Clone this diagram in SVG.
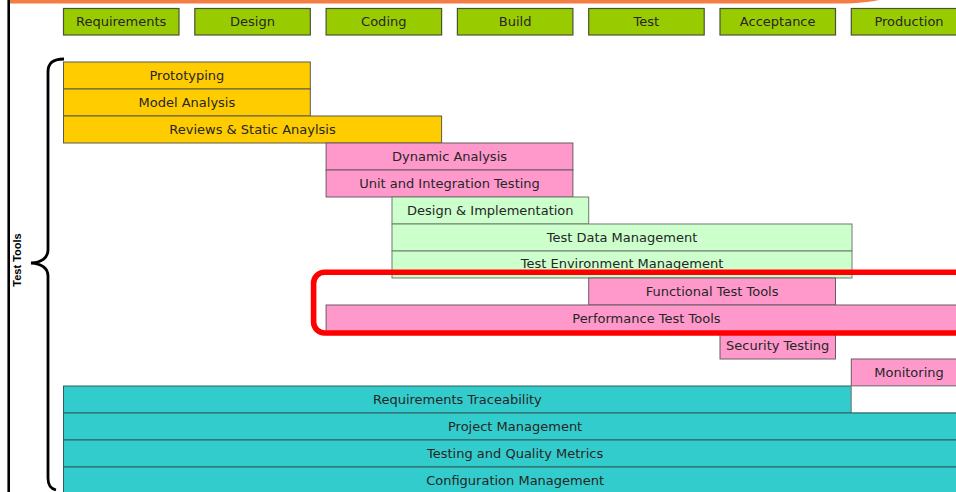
<svg xmlns="http://www.w3.org/2000/svg" width="956" height="492" viewBox="0 0 956 492">
<style>
text{font-family:"DejaVu Sans","Liberation Sans",sans-serif;font-size:13px;fill:#262626;text-anchor:middle}
.ph rect{fill:#99CC00;stroke:#4a5236;stroke-width:1.2}
.y rect{fill:#FFCC00;stroke:#5a5a4a;stroke-width:1}
.p rect{fill:#FF99CC;stroke:#6a5a62;stroke-width:1}
.g rect{fill:#CCFFCC;stroke:#707a70;stroke-width:1}
.t rect{fill:#33CCCC;stroke:#2f5f5f;stroke-width:1}
.w rect{fill:#FFFFFF;stroke:#8a8a8a;stroke-width:1}
</style>
<rect width="956" height="492" fill="#FFFFFF"/>
<path d="M9,0 L879,0 C866,2.8 852,3.6 836,3.6 L9,3.6 Z" fill="#F47C45"/>
<line x1="8.7" y1="0" x2="8.7" y2="492" stroke="#000" stroke-width="2.6"/>
<g id="phases" class="ph">
<g id="ph-requirements"><rect x="63.5" y="8.5" width="115.5" height="26.5"/><text x="121.2" y="26">Requirements</text></g>
<g id="ph-design"><rect x="194.8" y="8.5" width="115.5" height="26.5"/><text x="252.5" y="26">Design</text></g>
<g id="ph-coding"><rect x="326.1" y="8.5" width="115.5" height="26.5"/><text x="383.8" y="26">Coding</text></g>
<g id="ph-build"><rect x="457.4" y="8.5" width="115.5" height="26.5"/><text x="515.1" y="26">Build</text></g>
<g id="ph-test"><rect x="588.7" y="8.5" width="115.5" height="26.5"/><text x="646.4" y="26">Test</text></g>
<g id="ph-acceptance"><rect x="720" y="8.5" width="115.5" height="26.5"/><text x="777.7" y="26">Acceptance</text></g>
<g id="ph-production"><rect x="851.3" y="8.5" width="115.5" height="26.5"/><text x="909" y="26">Production</text></g>
</g>
<g id="brace">
<path d="M64,59 C54,59 48,62 48,72 L48,250 C48,258 41,262.5 31,263 C41,263.5 48,268 48,276 L48,478 C48,485 50,488.5 56,490" fill="none" stroke="#000" stroke-width="2.8"/>
<text transform="translate(21,260) rotate(-90)" style="font-family:'Liberation Sans',sans-serif;font-size:11px;font-weight:bold;fill:#000">Test Tools</text>
</g>
<g id="connectors"/>
<g id="prototyping" class="y"><rect x="63.5" y="62" width="246.8" height="27"/><text x="186.9" y="80">Prototyping</text></g>
<g id="model-analysis" class="y"><rect x="63.5" y="89" width="246.8" height="27"/><text x="186.9" y="107">Model Analysis</text></g>
<g id="reviews" class="y"><rect x="63.5" y="116" width="378.1" height="27"/><text x="252.5" y="134">Reviews &amp; Static Anaylsis</text></g>
<g id="dynamic-analysis" class="p"><rect x="326.1" y="143" width="246.8" height="27"/><text x="449.5" y="161">Dynamic Analysis</text></g>
<g id="unit-integration" class="p"><rect x="326.1" y="170" width="246.8" height="27"/><text x="449.5" y="188">Unit and Integration Testing</text></g>
<g id="design-impl" class="g"><rect x="392" y="197" width="196.7" height="27"/><text x="490.3" y="215">Design &amp; Implementation</text></g>
<g id="test-data" class="g"><rect x="392" y="224" width="460" height="27"/><text x="622" y="242">Test Data Management</text></g>
<g id="test-env" class="g"><rect x="392" y="251" width="460" height="27"/><text x="622" y="267.5">Test Environment Management</text></g>
<g id="functional" class="p"><rect x="588.7" y="278" width="246.8" height="27"/><text x="712.1" y="296">Functional Test Tools</text></g>
<g id="performance" class="p"><rect x="326.1" y="305" width="640.7" height="27"/><text x="646.4" y="323">Performance Test Tools</text></g>
<g id="security" class="p"><rect x="720" y="332" width="115.5" height="27"/><text x="777.7" y="350">Security Testing</text></g>
<g id="monitoring" class="p"><rect x="851.3" y="359" width="115.5" height="27"/><text x="909" y="377">Monitoring</text></g>
<g id="req-trace" class="t"><rect x="63.5" y="386" width="787.8" height="27"/><text x="457.4" y="404">Requirements Traceability</text></g>
<g id="blank-cell" class="w"><rect x="851.3" y="386" width="115.5" height="27"/></g>
<g id="project-mgmt" class="t"><rect x="63.5" y="413" width="903.3" height="27"/><text x="515.1" y="431">Project Management</text></g>
<g id="metrics" class="t"><rect x="63.5" y="440" width="903.3" height="27"/><text x="515.1" y="458">Testing and Quality Metrics</text></g>
<g id="config-mgmt" class="t"><rect x="63.5" y="467" width="903.3" height="27"/><text x="515.1" y="485">Configuration Management</text></g>
<g id="highlight"><rect x="313.6" y="272.2" width="700" height="60.8" rx="11" ry="11" fill="none" stroke="#FF0000" stroke-width="5.6"/></g>
</svg>
